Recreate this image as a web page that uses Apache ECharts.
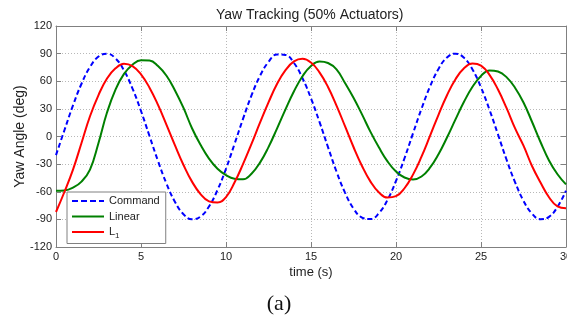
<!DOCTYPE html>
<html>
<head>
<meta charset="utf-8">
<script src="https://cdn.jsdelivr.net/npm/echarts@6/dist/echarts.min.js"></script>
<style>html,body{margin:0;padding:0;background:#fff}#c{width:567px;height:320px}</style>
</head>
<body>
<div id="c"></div>
<script>
var time = [0,0.5,1,1.5,2,2.5,3,3.5,4,4.5,5,5.5,6,6.5,7,7.5,8,8.5,9,9.5,10,10.5,11,11.5,12,12.5,13,13.5,14,14.5,15,15.5,16,16.5,17,17.5,18,18.5,19,19.5,20,20.5,21,21.5,22,22.5,23,23.5,24,24.5,25,25.5,26,26.5,27,27.5,28,28.5,29,29.5,30];
var command = [-20.2,7.1,33.8,57.3,75.5,86.8,89.9,84.8,71.7,52.1,27.7,
  0.5,-26.6,-51.2,-71.1,-84.4,-89.9,-87.0,-76.0,-58.1,-35.0,
  -8.2,19.1,44.6,65.8,81.0,89.1,88.6,79.8,63.3,41.4,
  15.8,-11.5,-38.1,-60.9,-78.2,-88.0,-89.7,-83.1,-68.8,-48.3,
  -23.6,3.4,30.1,54.2,73.4,85.8,90.0,85.5,72.8,53.3,
  29.0,2.2,-25.0,-49.5,-69.8,-83.8,-89.8,-87.3,-76.4,-58.9];
var linear = [-59,-58.6,-55.5,-49,-36,-7,26,51,68,78,82.9,
  82.6,76.5,66,50,31,9,-9,-24,-35,-42,
  -45.8,-46.4,-40.4,-28.4,-11.5,8.6,29.5,49.2,65.5,76.6,
  81.4,79.8,72.9,58,42,24,5,-12,-27,-38,
  -44.5,-46.7,-43.4,-33.9,-19.3,-1.1,18.6,37.7,54,65.8,
  71.8,70.6,64.5,53,37,16,-6,-26,-41,-52];
var l1 = [-82,-60,-36,-7,22,45,63,74,79,76.4,67.5,
  53,34.3,12.7,-9.7,-30.9,-49,-62.5,-70.4,-71.7,-65.8,
  -50,-30,-8,15,37,57,72,81.5,84.3,80.3,
  69.7,53.7,33.6,11.2,-11.4,-32,-49,-60.8,-66.3,-64.8,
  -56.2,-41.4,-21.9,0.6,23.6,44.8,62.2,74.1,79.2,76.9,
  67,51,31,9,-10,-32,-50,-66,-76,-78];
var seriesNames = ['Command','Linear','L1'];
var xTicks = {min:0, max:30, interval:5};
var yTicks = {min:-120, max:120, interval:30};

function pairs(v){ return time.map(function(t,i){ return [t, v[i]]; }); }
var FONT = 'Liberation Sans, Arial, sans-serif';
var frame = '#808080';

var chart = echarts.init(document.getElementById('c'), null, {renderer:'canvas'});
function axisBase(pos, isX, main){
  var r = isX ? xTicks : yTicks;
  return {
    type:'value', position:pos, min:r.min, max:r.max, interval:r.interval,
    axisLine:{show:true, onZero:false, lineStyle:{color:frame, width:1}},
    axisTick:{show:true, inside:true, length:5, lineStyle:{color:frame}},
    axisLabel:{show:main, color:'#222', fontSize:11, fontFamily:FONT, margin:4},
    splitLine:{show:main, lineStyle:{color:'#b8b8b8', type:[1,2], width:1}}
  };
}
var xa = axisBase('bottom', true, true);
xa.name = 'time (s)'; xa.nameLocation='middle'; xa.nameGap = 19; xa.nameMoveOverlap = false;
xa.nameTextStyle = {fontSize:13, color:'#222', fontFamily:FONT};
var ya = axisBase('left', false, true);
ya.name = 'Yaw Angle (deg)'; ya.nameLocation='middle'; ya.nameGap = 29; ya.nameMoveOverlap = false;
ya.nameTextStyle = {fontSize:14, color:'#222', fontFamily:FONT};

var dashIcon = 'path://M0,0h6v2h-6z M9,0h6v2h-6z M18,0h6v2h-6z M27,0h5v2h-5z';
var solidIcon = 'path://M0,0h32v2h-32z';

function lineSeries(name, values, color, dash){
  return {name:name, type:'line', data:pairs(values), symbol:'none', smooth:0.45,
    lineStyle:{color:color, width:2, type:dash ? [5,3] : 'solid'}, itemStyle:{color:color}};
}

chart.setOption({
  animation:false,
  backgroundColor:'#fff',
  title:{text:'Yaw Tracking (50% Actuators)', left:211, top:3,
    textStyle:{fontSize:14, fontWeight:'normal', color:'#222', fontFamily:FONT}},
  grid:{left:56, right:1, top:26, bottom:73, containLabel:false, outerBoundsMode:'none'},
  xAxis:[xa, axisBase('top', true, false)],
  yAxis:[ya, axisBase('right', false, false)],
  legend:{
    data:[{name:'Command', icon:dashIcon},{name:'Linear', icon:solidIcon},{name:'L1', icon:solidIcon}],
    orient:'vertical', left:67, top:192,
    itemWidth:32, itemHeight:2, itemGap:1.5,
    backgroundColor:'#fff', borderColor:frame, borderWidth:1, borderRadius:0,
    padding:[2,6,4,5],
    textStyle:{fontSize:11, lineHeight:14, color:'#222', fontFamily:FONT,
      rich:{s:{fontSize:8, fontFamily:FONT, color:'#222', padding:[7,0,0,0]}}},
    formatter:function(n){ return n==='L1' ? 'L{s|1}' : n; }
  },
  series:[
    lineSeries('Command', command, '#0000ff', true),
    lineSeries('Linear', linear, '#008000', false),
    lineSeries('L1', l1, '#ff0000', false)
  ],
  graphic:[{type:'text', x:279, y:304,
    style:{text:'(a)', fontSize:22, fontFamily:'Liberation Serif, Times New Roman, serif', fill:'#111',
      align:'center', verticalAlign:'middle'}}]
});
</script>
</body>
</html>
